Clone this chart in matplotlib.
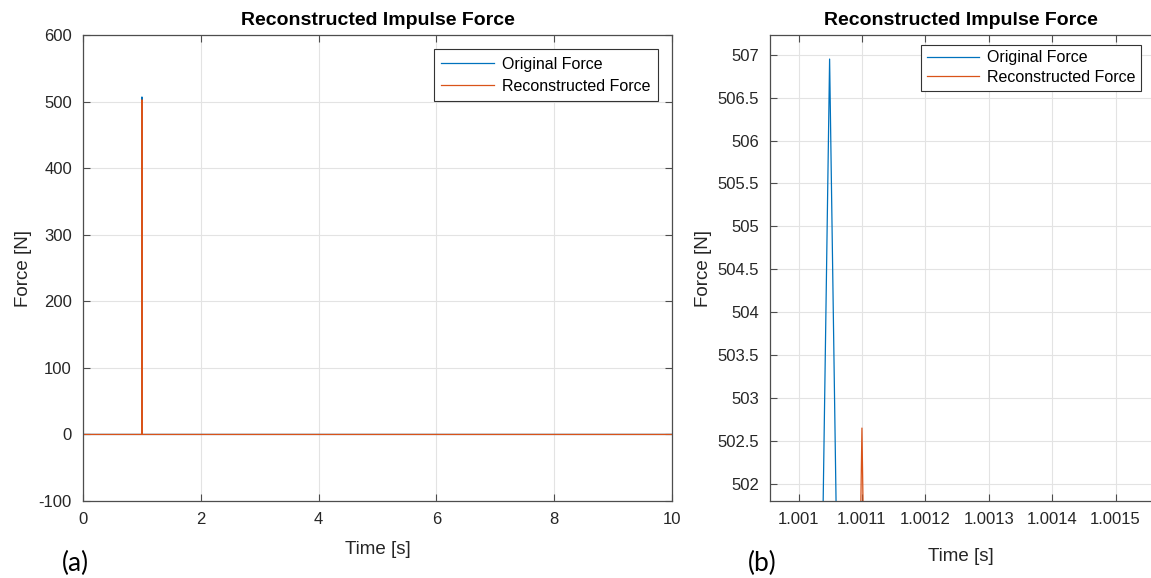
import numpy as np
import matplotlib
matplotlib.use("Agg")
import matplotlib.pyplot as plt
from matplotlib.ticker import MultipleLocator

plt.rcParams['font.family'] = ['Liberation Sans', 'DejaVu Sans']
plt.rcParams['axes.unicode_minus'] = False

# samples around the impulse (dt = 1 ms), zero elsewhere on 0..10 s
t_orig = [0.0, 1.000049, 1.001049, 1.002049, 10.0]
f_orig = [0.0, 0.0, 506.95, 0.0, 0.0]
t_rec = [0.0, 1.0001, 1.0011, 1.0021, 10.0]
f_rec = [0.0, 0.0, 502.65, 0.0, 0.0]

c_orig = '#0072BD'
c_rec = '#D95319'
axcol = '#4d4d4d'
txtcol = '#262626'

fig = plt.figure(figsize=(11.51, 5.78), dpi=100)
ax1 = fig.add_axes([0.0721, 0.1332, 0.5117, 0.8062])
ax2 = fig.add_axes([0.669, 0.1332, 0.331, 0.8062])


def style(ax, xpad, ypad):
    ax.grid(True, color='#e3e3e3', linewidth=0.8)
    ax.set_axisbelow(True)
    for s in ax.spines.values():
        s.set_color(axcol)
        s.set_linewidth(0.9)
    ax.tick_params(direction='in', length=5, width=0.8, color=axcol,
                   labelsize=12, labelcolor=txtcol, top=True, right=True, pad=8)
    ax.set_title('Reconstructed Impulse Force', fontsize=14, fontweight='bold',
                 color='black', pad=7)
    ax.set_xlabel('Time [s]', fontsize=13.5, color=txtcol, labelpad=xpad)
    ax.set_ylabel('Force [N]', fontsize=13.5, color=txtcol, labelpad=ypad)


# (a) full record
ax1.plot(t_orig, f_orig, color=c_orig, linewidth=0.9, label='Original Force')
ax1.plot(t_rec, f_rec, color=c_rec, linewidth=0.9, label='Reconstructed Force')
ax1.set_xlim(0, 10)
ax1.set_ylim(-100, 600)
ax1.xaxis.set_major_locator(MultipleLocator(2))
ax1.yaxis.set_major_locator(MultipleLocator(100))
style(ax1, 10, 5)
leg = ax1.legend(loc='upper right', fontsize=11.5, fancybox=False,
                 edgecolor='#333333', framealpha=1, borderaxespad=0.9,
                 handlelength=3.3, handletextpad=0.5, borderpad=0.45,
                 labelspacing=0.45)
leg.get_frame().set_linewidth(0.8)

# (b) zoom on the peak
ax2.plot(t_orig, f_orig, color=c_orig, linewidth=0.9, label='Original Force')
ax2.plot(t_rec, f_rec, color=c_rec, linewidth=0.9, label='Reconstructed Force')
ax2.set_xlim(1.000955, 1.001556)
ax2.set_ylim(501.8, 507.23)
ax2.xaxis.set_major_locator(MultipleLocator(0.0001))
ax2.yaxis.set_major_locator(MultipleLocator(0.5))
ax2.xaxis.set_major_formatter(plt.FuncFormatter(lambda v, p: ('%.4f' % v).rstrip('0')))
ax2.yaxis.set_major_formatter(plt.FuncFormatter(lambda v, p: ('%.1f' % v).rstrip('0').rstrip('.')))
style(ax2, 15, 4)
ax2.spines['right'].set_visible(False)
ax2.tick_params(right=False)
leg2 = ax2.legend(loc='upper right', fontsize=11.5, fancybox=False,
                  edgecolor='#333333', framealpha=1, borderaxespad=0.6,
                  handlelength=3.3, handletextpad=0.5, borderpad=0.35,
                  labelspacing=0.3)
leg2.get_frame().set_linewidth(0.8)

fig.text(75 / 1151, 1 - 563 / 578, '(a)', fontsize=19, family=['Lato', 'DejaVu Sans'],
         ha='center', va='center', color='black')
fig.text(762 / 1151, 1 - 563 / 578, '(b)', fontsize=19, family=['Lato', 'DejaVu Sans'],
         ha='center', va='center', color='black')

fig.savefig('out.png', dpi=100)
